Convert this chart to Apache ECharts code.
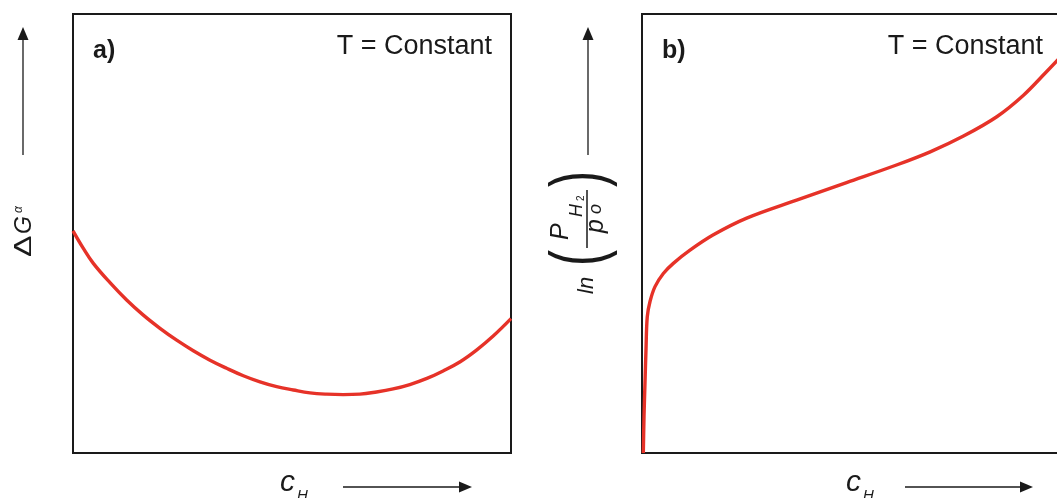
<!DOCTYPE html>
<html>
<head>
<meta charset="utf-8">
<script src="https://cdn.jsdelivr.net/npm/echarts@6/dist/echarts.min.js"></script>
<style>
html,body{margin:0;padding:0;background:#ffffff;}
#chart{width:1057px;height:498px;}
</style>
</head>
<body>
<div id="chart"></div>
<script>
// ---- Data (arbitrary units 0..100) ----
const cH_a = [0, 2.36, 4.64, 8.45, 12.25, 16.06, 19.86, 23.67, 27.47, 31.28, 35.08, 38.89, 42.69, 46.5, 50.3,
              54.1, 57.9, 61.7, 65.5, 69.3, 73.1, 76.9, 80.8, 84.5, 88.4, 92.2, 96.0, 100];
const dG_a = [50.6, 46.6, 43.2, 38.8, 34.85, 31.4, 28.4, 25.7, 23.3, 21.15, 19.3, 17.6, 16.2, 15.1, 14.35,
              13.7, 13.4, 13.3, 13.4, 13.9, 14.6, 15.6, 17.0, 18.7, 20.8, 23.5, 26.7, 30.6];

const cH_b = [0.3, 0.46, 0.68, 0.91, 1.2, 1.83, 2.97, 4.87, 7.15, 10.96, 16.3, 23.9, 35.3, 46.7, 58.1,
              65.8, 73.4, 81.0, 87.1, 92.4, 94.7, 97.7];
const lnP_b = [0, 8.3, 15.9, 23.5, 31.0, 34.5, 37.9, 40.9, 43.2, 46.2, 49.7, 53.5, 57.6, 61.6, 65.6,
               68.6, 72.2, 76.6, 81.5, 86.9, 89.3, 92.6];

const panelLabels = ['a)', 'b)'];
const conditionLabel = 'T = Constant';

// ---- Helpers ----
const FONT = '"Liberation Sans", Arial, Helvetica, sans-serif';
const RED = '#e63228';
const INK = '#1a1a1a';

function pairs(xs, ys) { return xs.map((x, i) => [x, ys[i]]); }

function txt(x, y, text, size, opts) {
  opts = opts || {};
  const el = {
    type: 'text', x: x, y: y,
    style: {
      text: text,
      fontSize: size,
      fontFamily: FONT,
      fontStyle: opts.italic ? 'italic' : 'normal',
      fontWeight: opts.bold ? 'bold' : 'normal',
      fill: INK,
      align: opts.align || 'left', textAlign: opts.align || 'left',
      verticalAlign: 'middle', textVerticalAlign: 'middle'
    }
  };
  if (opts.scaleY) el.scaleY = opts.scaleY;
  if (opts.scaleX) el.scaleX = opts.scaleX;
  return el;
}

function arrowV(x, yBottom, yTip) {
  return [
    { type: 'line', shape: { x1: x, y1: yBottom, x2: x, y2: yTip + 11 }, style: { stroke: INK, lineWidth: 1.3 } },
    { type: 'polygon', shape: { points: [[x, yTip], [x - 5.5, yTip + 13], [x + 5.5, yTip + 13]] }, style: { fill: INK } }
  ];
}
function arrowH(xStart, xTip, y) {
  return [
    { type: 'line', shape: { x1: xStart, y1: y, x2: xTip - 11, y2: y }, style: { stroke: INK, lineWidth: 1.3 } },
    { type: 'polygon', shape: { points: [[xTip, y], [xTip - 13, y - 5.5], [xTip - 13, y + 5.5]] }, style: { fill: INK } }
  ];
}

const chart = echarts.init(document.getElementById('chart'), null, { renderer: 'canvas' });

const axisHidden = { show: false };

const graphics = [
  // panel letters and conditions
  txt(93, 51, panelLabels[0], 25, { bold: true }),
  txt(492, 46.5, conditionLabel, 27, { align: 'right' }),
  txt(662, 51, panelLabels[1], 25, { bold: true }),
  txt(1043, 46.5, conditionLabel, 27, { align: 'right' }),

  // x labels c_H
  txt(280, 482.5, 'c', 30, { italic: true }),
  txt(297, 495.5, 'H', 15, { italic: true }),
  txt(846, 482.5, 'c', 30, { italic: true }),
  txt(863, 495.5, 'H', 15, { italic: true }),

  // left y label  ΔG^α  (rotated, reads bottom to top)
  {
    type: 'group', x: 23, y: 257, rotation: Math.PI / 2,
    children: [
      txt(0, 1.95, 'Δ', 23, { scaleX: 1.4 }),
      txt(23, 1.95, 'G', 23, { italic: true }),
      txt(44, -4.2, 'α', 12, { italic: true })
    ]
  },

  // right y label  ln( P_H2 / p° )
  {
    type: 'group', x: 587, y: 300, rotation: Math.PI / 2,
    children: [
      txt(6, 0.3, 'ln', 22, { italic: true }),
      txt(42, -6, '(', 48, { align: 'center', scaleY: 1.55 }),
      txt(60, -25.75, 'P', 25, { italic: true }),
      txt(83, -10.3, 'H', 18, { italic: true }),
      txt(99, -5.5, '2', 10),
      { type: 'line', shape: { x1: 52, y1: 0, x2: 110, y2: 0 }, style: { stroke: INK, lineWidth: 1.5 } },
      txt(67, 9.25, 'p', 25, { italic: true }),
      txt(86, 8.7, 'o', 18, { italic: true }),
      txt(121, -6, ')', 48, { align: 'center', scaleY: 1.55 })
    ]
  }
].concat(
  arrowV(23, 155, 27),
  arrowV(588, 155, 27),
  arrowH(343, 472, 487),
  arrowH(905, 1033, 487)
);

chart.setOption({
  backgroundColor: '#ffffff',
  animation: false,
  grid: [
    { left: 73, top: 14, width: 438, height: 439, show: true, borderColor: INK, borderWidth: 2, backgroundColor: 'transparent', outerBoundsMode: 'none', containLabel: false },
    { left: 642, top: 14, width: 438, height: 439, show: true, borderColor: INK, borderWidth: 2, backgroundColor: 'transparent', outerBoundsMode: 'none', containLabel: false }
  ],
  xAxis: [
    { type: 'value', gridIndex: 0, min: 0, max: 100, axisLine: axisHidden, axisTick: axisHidden, axisLabel: axisHidden, splitLine: axisHidden },
    { type: 'value', gridIndex: 1, min: 0, max: 100, axisLine: axisHidden, axisTick: axisHidden, axisLabel: axisHidden, splitLine: axisHidden }
  ],
  yAxis: [
    { type: 'value', gridIndex: 0, min: 0, max: 100, axisLine: axisHidden, axisTick: axisHidden, axisLabel: axisHidden, splitLine: axisHidden },
    { type: 'value', gridIndex: 1, min: 0, max: 100, axisLine: axisHidden, axisTick: axisHidden, axisLabel: axisHidden, splitLine: axisHidden }
  ],
  series: [
    {
      type: 'line', xAxisIndex: 0, yAxisIndex: 0,
      data: pairs(cH_a, dG_a),
      smooth: 0.4, showSymbol: false, symbol: 'none',
      lineStyle: { color: RED, width: 3.4 }, z: 3
    },
    {
      type: 'line', xAxisIndex: 1, yAxisIndex: 1,
      data: pairs(cH_b, lnP_b),
      smooth: 0.35, showSymbol: false, symbol: 'none',
      lineStyle: { color: RED, width: 3.4 }, z: 3
    }
  ],
  graphic: { elements: graphics }
});
</script>
</body>
</html>
